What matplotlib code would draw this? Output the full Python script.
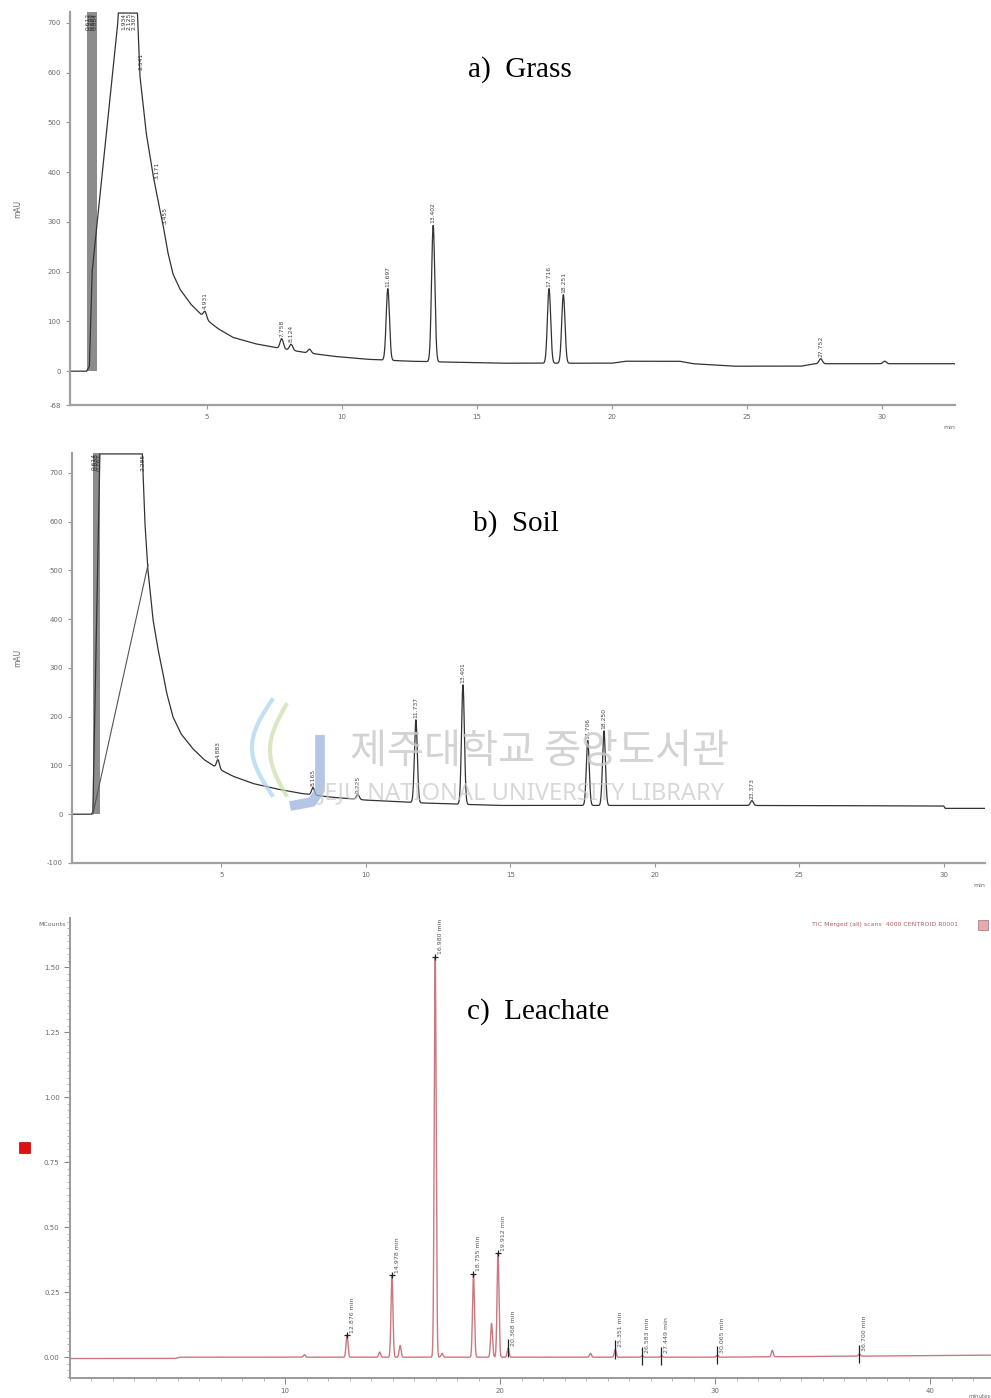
import numpy as np
import matplotlib.pyplot as plt
from matplotlib.ticker import MultipleLocator, FixedLocator

# ---- panel a (Grass) ----
a_base_t = [-0.1, 0.55, 0.65, 0.75, 1.70, 1.75, 2.40, 2.52, 2.75, 3.0, 3.2, 3.37, 3.55, 3.74, 4.0, 4.4, 4.93,
            5.4, 5.96, 6.8, 7.8, 8.7, 9.67, 10.9, 12.5, 15.85, 20.0, 20.5, 22.5, 23.0, 24.5, 27.0, 27.5, 32.7]
a_base_v = [0, 0, 10, 200, 700, 760, 760, 594, 480, 396, 340, 296, 240, 196, 165, 135, 106,
            86, 68, 55, 45, 37, 30, 24, 20, 16, 16, 20, 20, 15, 10, 10, 15, 15]
a_peak_t = [4.93, 7.77, 8.12, 8.80, 11.70, 13.38, 17.67, 18.20, 27.73, 30.10]
a_peak_h = [14, 20, 12, 8, 144, 274, 150, 138, 10, 5]
a_peak_lab = ['4.931', '7.758', '8.124', '', '11.697', '13.402', '17.716', '18.251', '27.752', '']
a_top_t = [0.62, 0.70, 0.80, 0.88, 1.93, 2.12, 2.30, 2.55, 3.17, 3.45]
a_top_v = [720, 720, 720, 720, 720, 720, 720, 640, 420, 330]
a_top_lab = ['0.612', '0.703', '0.801', '0.884', '1.934', '2.125', '2.307', '2.541', '3.171', '3.455']
a_solvent = (0.56, 0.93)
a_yticks = [-68, 0, 100, 200, 300, 400, 500, 600, 700]
a_xticks = [5, 10, 15, 20, 25, 30]

# ---- panel b (Soil) ----
b_base_t = [-0.2, 0.5, 0.55, 0.8, 2.25, 2.35, 2.45, 2.63, 2.8, 2.94, 3.1, 3.32, 3.6, 4.0, 4.4, 4.84, 5.4,
            6.09, 6.9, 7.72, 8.8, 10.0, 12.0, 14.6, 20.0, 23.0, 30.0, 30.05, 31.5]
b_base_v = [0, 0, 5, 760, 760, 600, 505, 400, 340, 300, 250, 200, 165, 135, 112, 95, 78,
            63, 52, 43, 35, 29, 23, 18, 18, 18, 17, 12, 12]
b_hump_t = [0.55, 2.46]
b_hump_v = [0, 512]
b_peak_t = [4.88, 8.17, 9.72, 11.73, 13.36, 17.68, 18.24, 23.36]
b_peak_h = [18, 15, 10, 170, 245, 133, 153, 10]
b_peak_lab = ['4.883', '8.165', '9.725', '11.737', '13.401', '17.706', '18.250', '23.373']
b_top_t = [0.60, 0.68, 0.76, 2.28]
b_top_v = [740, 740, 740, 740]
b_top_lab = ['0.614', '0.688', '0.762', '2.285']
b_solvent = (0.55, 0.80)
b_yticks = [-100, 0, 100, 200, 300, 400, 500, 600, 700]
b_xticks = [5, 10, 15, 20, 25, 30]

# ---- panel c (Leachate) ----
c_base_t = [0, 4.9, 5.1, 30.0, 42.8]
c_base_v = [-0.005, -0.005, 0.0, 0.0, 0.008]
c_peak_t = [10.9, 12.88, 14.4, 14.97, 15.35, 16.98, 17.3, 18.76, 19.6, 19.9, 20.37, 24.2, 25.35, 26.6, 27.5, 30.1, 32.65, 36.7]
c_peak_h = [0.01, 0.085, 0.02, 0.315, 0.045, 1.54, 0.015, 0.32, 0.13, 0.40, 0.035, 0.015, 0.03, 0.005, 0.005, 0.008, 0.025, 0.008]
c_peak_lab = ['', '12.876 min', '', '14.978 min', '', '16.980 min', '', '18.755 min', '', '19.912 min', '20.368 min',
              '', '25.351 min', '26.583 min', '27.449 min', '30.065 min', '', '36.700 min']
c_yticks = [0.0, 0.25, 0.50, 0.75, 1.00, 1.25, 1.50]
c_xticks = [10, 20, 30, 40]

TXT = '#6a6a6a'


def trace(tt, base_t, base_v, pk_t, pk_h, sigma):
    y = np.interp(tt, base_t, base_v)
    for p, h in zip(pk_t, pk_h):
        y = y + h * np.exp(-0.5 * ((tt - p) / sigma) ** 2)
    return y


def style_ab(ax, yticks, xticks, ylim, xlim, xlab):
    ax.set_xlim(*xlim)
    ax.set_ylim(*ylim)
    for s in ['top', 'right']:
        ax.spines[s].set_visible(False)
    for s in ['left', 'bottom']:
        ax.spines[s].set_color('#a0a0a0')
        ax.spines[s].set_linewidth(1.6)
    ax.yaxis.set_major_locator(FixedLocator(yticks))
    ax.xaxis.set_major_locator(FixedLocator(xticks))
    ax.tick_params(length=3, width=0.8, color='#999999', labelsize=5, labelcolor=TXT)
    ax.set_yticklabels([str(v) for v in yticks])
    ax.set_ylabel('mAU', fontsize=5.5, color=TXT, labelpad=18)
    ax.text(1.0, -0.05, xlab, transform=ax.transAxes, fontsize=4.5, color=TXT, ha='right', va='top')


fig = plt.figure(figsize=(9.91, 13.98), dpi=100)

# ---------------- a) Grass ----------------
ax = fig.add_axes([0.0706, 0.7103, 0.893, 0.2811])
xlim = (-0.07, 32.7)
ylim = (-68, 722)
tt = np.linspace(xlim[0], xlim[1], 8000)
ya = trace(tt, a_base_t, a_base_v, a_peak_t, a_peak_h, 0.06)
ax.plot(tt, np.minimum(ya, ylim[1] - 2), color='#333333', lw=0.9)
ax.fill_between([a_solvent[0], a_solvent[1]], 0, ylim[1], color='#8c8c8c', lw=0)
for p, h, lab in zip(a_peak_t, a_peak_h, a_peak_lab):
    if lab:
        top = np.interp(p, a_base_t, a_base_v) + h
        ax.text(p, top + 4, lab, rotation=90, fontsize=4.3, color='#444444', ha='center', va='bottom')
for p, v, lab in zip(a_top_t, a_top_v, a_top_lab):
    ax.text(p, v, lab, rotation=90, fontsize=4.3, color='#333333', ha='center', va='top')
style_ab(ax, a_yticks, a_xticks, ylim, xlim, 'min')
fig.text(520 / 991, 1 - 70 / 1398, 'a)  Grass', fontsize=21, family='Liberation Serif', ha='center', va='center')

# ---------------- b) Soil ----------------
ax = fig.add_axes([0.0727, 0.3827, 0.921, 0.2933])
xlim = (-0.17, 31.42)
ylim = (-100, 741)
tt = np.linspace(xlim[0], xlim[1], 8000)
yb = trace(tt, b_base_t, b_base_v, b_peak_t, b_peak_h, 0.05)
ax.plot(tt, np.minimum(yb, ylim[1] - 2), color='#333333', lw=0.9)
ax.plot(b_hump_t, b_hump_v, color='#555555', lw=0.8)
ax.fill_between([b_solvent[0], b_solvent[1]], 0, ylim[1], color='#8c8c8c', lw=0)
for p, h, lab in zip(b_peak_t, b_peak_h, b_peak_lab):
    top = np.interp(p, b_base_t, b_base_v) + h
    ax.text(p, top + 4, lab, rotation=90, fontsize=4.3, color='#444444', ha='center', va='bottom')
for p, v, lab in zip(b_top_t, b_top_v, b_top_lab):
    ax.text(p, v, lab, rotation=90, fontsize=4.3, color='#333333', ha='center', va='top')
style_ab(ax, b_yticks, b_xticks, ylim, xlim, 'min')

# library watermark over panel b
wm = '#c8c8c8'
fig.text(540 / 991, 1 - 752 / 1398, '제주대학교 중앙도서관', fontsize=29, color=wm,
         family=['Noto Sans CJK KR', 'DejaVu Sans'], ha='center', va='center', alpha=0.8)
fig.text(522 / 991, 1 - 793 / 1398, 'JEJU NATIONAL UNIVERSITY LIBRARY', fontsize=17, color=wm,
         family=['Noto Sans', 'DejaVu Sans'], ha='center', va='center', alpha=0.7)
wx = np.linspace(0, 1, 40)
fig.add_artist(plt.Line2D((272 - 20 * np.sin(wx * np.pi)) / 991, 1 - (700 + 95 * wx) / 1398,
                          color='#a8d4ee', lw=3, alpha=0.7))
fig.add_artist(plt.Line2D((286 - 16 * np.sin(wx * np.pi)) / 991, 1 - (705 + 90 * wx) / 1398,
                          color='#c8e0a8', lw=3, alpha=0.7))
fig.add_artist(plt.Line2D([320 / 991, 320 / 991, 312 / 991, 290 / 991],
                          [1 - 735 / 1398, 1 - 790 / 1398, 1 - 802 / 1398, 1 - 806 / 1398],
                          color='#9ab4dc', lw=7, alpha=0.75, solid_capstyle='butt'))
fig.text(516 / 991, 1 - 524 / 1398, 'b)  Soil', fontsize=21, family='Liberation Serif', ha='center', va='center')

# ---------------- c) Leachate ----------------
ax = fig.add_axes([0.0706, 0.0143, 0.929, 0.329])
xlim = (0, 42.8)
ylim = (-0.08, 1.69)
tt = np.linspace(xlim[0], xlim[1], 10000)
yc = trace(tt, c_base_t, c_base_v, c_peak_t, c_peak_h, 0.045)
red = '#c97880'
ax.plot(tt, yc, color=red, lw=1.0)
for p, h, lab in zip(c_peak_t, c_peak_h, c_peak_lab):
    if not lab:
        continue
    top = np.interp(p, c_base_t, c_base_v) + h
    if h < 0.05:
        ax.vlines(p, top - 0.035, top + 0.035, color='#222222', lw=0.9)
    else:
        ax.plot([p], [top], marker='+', color='#222222', ms=5, mew=0.9)
    ax.text(p + 0.12, top + 0.01, lab, rotation=90, fontsize=4.5, color='#555555',
            ha='left', va='bottom', clip_on=False)
ax.set_xlim(*xlim)
ax.set_ylim(*ylim)
for s in ['top', 'right']:
    ax.spines[s].set_visible(False)
for s in ['left', 'bottom']:
    ax.spines[s].set_color('#9a9a9a')
    ax.spines[s].set_linewidth(1.4)
ax.yaxis.set_major_locator(FixedLocator(c_yticks))
ax.yaxis.set_minor_locator(MultipleLocator(0.025))
ax.xaxis.set_major_locator(FixedLocator(c_xticks))
ax.xaxis.set_minor_locator(MultipleLocator(1))
ax.set_yticklabels(['%.2f' % v for v in c_yticks])
ax.tick_params(which='major', length=4, width=0.8, color='#888888', labelsize=5, labelcolor=TXT)
ax.tick_params(which='minor', length=2, width=0.6, color='#aaaaaa')
ax.text(-0.005, 0.985, 'MCounts', transform=ax.transAxes, fontsize=4.5, color=TXT, ha='right', va='center')
ax.text(1.0, -0.035, 'minutes', transform=ax.transAxes, fontsize=4, color=TXT, ha='right', va='top')
ax.text(0.965, 0.985, 'TIC Merged (all) scans  4000 CENTROID R0001', transform=ax.transAxes,
        fontsize=4.5, color='#b06068', ha='right', va='center')
fig.add_artist(plt.Rectangle((978 / 991, 1 - 930 / 1398), 10 / 991, 10 / 1398,
                             facecolor='#e4aab0', edgecolor='#b08088', lw=0.6))
fig.add_artist(plt.Rectangle((19 / 991, 1 - 1153 / 1398), 11 / 991, 11 / 1398,
                             facecolor='#e01010', edgecolor='#b00000', lw=0.5))
fig.text(538 / 991, 1 - 1012 / 1398, 'c)  Leachate', fontsize=21, family='Liberation Serif', ha='center', va='center')

fig.savefig('out.png', dpi=100)
